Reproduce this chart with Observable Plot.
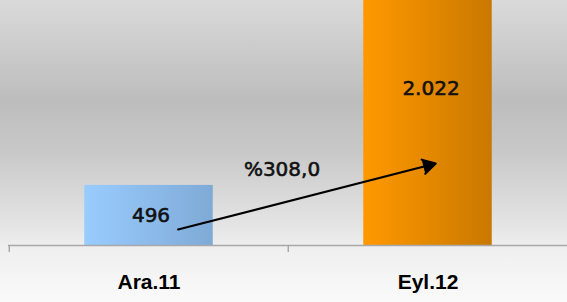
<!DOCTYPE html>
<html>
<head>
<meta charset="utf-8">
<script src="https://cdn.jsdelivr.net/npm/d3@7"></script>
<script src="https://cdn.jsdelivr.net/npm/@observablehq/plot@0.6"></script>
<style>
  html, body { margin: 0; padding: 0; background: #f8f8f8; }
  #chart svg { display: block; }
</style>
</head>
<body>
<div id="chart"></div>
<script>
// Data
const categories = ["Ara.11", "Eyl.12"];
const values = [496, 2022];
const changeLabel = "%308,0";
// Arrow anchor values (y in data units) from first to second category
const arrowFrom = ["Ara.11", 70];
const arrowTo = ["Eyl.12", 660];

const gradStops = [
  ["#99ccff", "#7faad6"],
  ["#ff9900", "#c97800"]
];

const data = categories.map((c, i) => ({category: c, value: values[i], idx: i}));
const trFormat = d3.formatLocale({decimal: ",", thousands: ".", grouping: [3], currency: ["", ""]}).format(",d");

const defs = () => {
  const d = d3.create("svg:defs");
  gradStops.forEach((s, i) => {
    const g = d.append("linearGradient").attr("id", "barGrad" + i)
      .attr("x1", "0").attr("x2", "1").attr("y1", "0").attr("y2", "0");
    g.append("stop").attr("offset", "0%").attr("stop-color", s[0]);
    g.append("stop").attr("offset", "100%").attr("stop-color", s[1]);
  });
  return d.node();
};

const labelFont = {fontSize: 20, fontFamily: "DejaVu Sans, sans-serif", fill: "#111", stroke: "#111", strokeWidth: 0.6};

const chart = Plot.plot({
  width: 567,
  height: 302,
  marginTop: 0,
  marginRight: 0,
  marginBottom: 57,
  marginLeft: 8,
  style: {
    background: "linear-gradient(to bottom, #dadada 0%, #bdbdbd 33%, #c8c8c8 50%, #e6e6e6 76%, #efefef 82%, #fafafa 100%)",
    overflow: "visible"
  },
  x: {type: "band", domain: categories, padding: 0, label: null, axis: null},
  y: {domain: [0, 2022], axis: null},
  color: {type: "identity"},
  marks: [
    defs,
    Plot.barY(data, {x: "category", y: "value", fill: d => `url(#barGrad${d.idx})`, insetLeft: 75.25, insetRight: 75.25}),
    Plot.ruleY([0], {stroke: "#a8a8a8", strokeWidth: 1.3}),
    Plot.axisX({tickSize: 7, dx: -139.75, tickFormat: () => "", stroke: "#a0a0a0", strokeWidth: 1.3, label: null}),
    Plot.axisX({tickSize: 0, tickPadding: 29, fontSize: 21, fontWeight: "bold", fontFamily: "Liberation Sans, Arial, sans-serif", fill: "#000", label: null, style: "letter-spacing:-0.6px"}),
    Plot.text(data.filter(d => d.idx === 0), {x: "category", y: d => d.value / 2, text: d => trFormat(d.value), dx: 2, ...labelFont, style: "letter-spacing:0.5px"}),
    Plot.text(data.filter(d => d.idx === 1), {x: "category", y: d => d.value / 2, text: d => trFormat(d.value), dx: 3, dy: -34, ...labelFont, style: "letter-spacing:1px"}),
    Plot.arrow([{}], {x1: () => arrowFrom[0], y1: () => arrowFrom[1], x2: () => arrowTo[0], y2: () => arrowTo[1], stroke: "#000", fill: "#000", strokeWidth: 2, headLength: 11, insetStart: 30, insetEnd: -8}),
    Plot.text([changeLabel], {text: d => d, y: () => 625, frameAnchor: "middle", dx: -6, ...labelFont, style: "letter-spacing:2.6px"})
  ]
});
document.getElementById("chart").appendChild(chart);
</script>
</body>
</html>
